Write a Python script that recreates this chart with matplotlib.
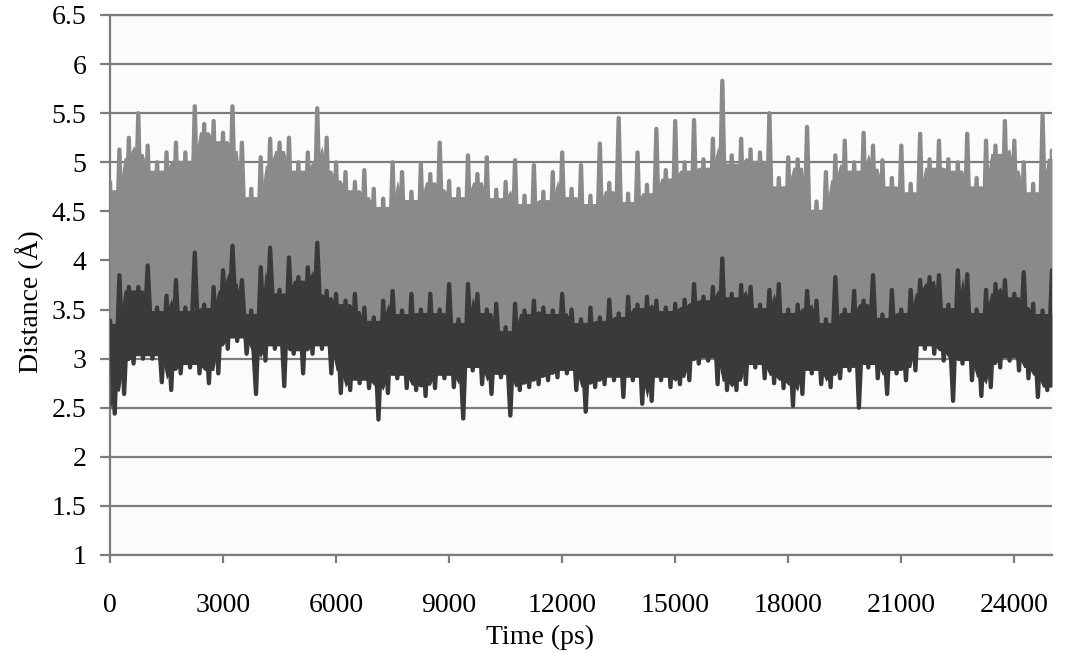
import numpy as np
import matplotlib
matplotlib.use("Agg")
import matplotlib.pyplot as plt
from matplotlib.ticker import FuncFormatter

# ---- data (envelope values of the two traces) ----
# upper peaks at t = 0, 250, ..., 25000 ps ; lower troughs at t = 125, 375, ..., 24875 ps
gray_high = [
    4.80, 5.13, 5.25, 5.50, 5.17, 5.00, 5.10, 5.20, 5.10, 5.57,
    5.39, 5.42, 5.30, 5.57, 5.20, 4.73, 5.05, 5.24, 5.20, 5.25,
    5.00, 5.10, 5.55, 5.25, 5.00, 4.90, 4.80, 4.92, 4.73, 4.63,
    5.00, 4.90, 4.70, 4.98, 4.88, 5.20, 4.81, 4.73, 5.07, 4.88,
    5.05, 4.72, 4.80, 5.02, 4.66, 4.97, 4.70, 4.90, 5.10, 4.73,
    4.97, 4.66, 5.19, 4.79, 5.45, 4.68, 5.10, 4.77, 5.34, 4.92,
    5.42, 5.00, 5.43, 5.03, 5.24, 5.83, 5.07, 5.24, 5.13, 5.10,
    5.50, 4.84, 5.05, 5.03, 5.36, 4.60, 4.90, 5.07, 5.22, 5.00,
    5.30, 5.17, 5.02, 4.84, 5.17, 4.78, 5.29, 5.03, 5.22, 5.03,
    5.00, 5.29, 4.84, 5.22, 5.17, 5.42, 5.22, 5.00, 4.78, 5.48,
    5.12,
]
gray_low = [
    3.35, 3.55, 3.60, 3.50, 3.62, 3.55, 3.60, 3.48, 3.62, 3.58,
    3.50, 3.60, 3.65, 3.70, 3.60, 3.45, 3.62, 3.55, 3.60, 3.58,
    3.62, 3.55, 3.65, 3.50, 3.45, 3.40, 3.48, 3.35, 3.22, 3.45,
    3.40, 3.48, 3.35, 3.50, 3.42, 3.55, 3.45, 3.30, 3.50, 3.42,
    3.40, 3.35, 3.45, 3.40, 3.38, 3.45, 3.35, 3.42, 3.48, 3.40,
    3.32, 3.45, 3.38, 3.50, 3.35, 3.45, 3.40, 3.42, 3.45, 3.40,
    3.48, 3.55, 3.50, 3.55, 3.45, 3.60, 3.50, 3.55, 3.48, 3.50,
    3.45, 3.40, 3.50, 3.45, 3.35, 3.52, 3.48, 3.40, 3.50, 3.45,
    3.50, 3.40, 3.48, 3.45, 3.50, 3.52, 3.45, 3.50, 3.55, 3.40,
    3.50, 3.45, 3.30, 3.50, 3.48, 3.52, 3.45, 3.35, 3.40, 3.50,
]
dark_high = [
    3.39, 3.85, 3.73, 3.73, 3.95, 3.52, 3.64, 3.80, 3.52, 4.08,
    3.55, 3.73, 3.90, 4.15, 3.80, 3.49, 3.93, 4.13, 3.70, 4.03,
    3.83, 3.93, 4.18, 3.69, 3.66, 3.59, 3.66, 3.52, 3.42, 3.59,
    3.69, 3.49, 3.66, 3.50, 3.66, 3.50, 3.76, 3.40, 3.76, 3.66,
    3.50, 3.56, 3.32, 3.56, 3.49, 3.59, 3.52, 3.49, 3.66, 3.50,
    3.40, 3.52, 3.42, 3.60, 3.46, 3.63, 3.55, 3.63, 3.59, 3.52,
    3.56, 3.60, 3.76, 3.63, 3.73, 4.02, 3.66, 3.75, 3.73, 3.55,
    3.70, 3.76, 3.50, 3.55, 3.69, 3.59, 3.40, 3.83, 3.50, 3.69,
    3.59, 3.85, 3.45, 3.70, 3.50, 3.70, 3.80, 3.83, 3.85, 3.55,
    3.90, 3.86, 3.50, 3.70, 3.76, 3.80, 3.66, 3.88, 3.56, 3.49,
    3.90,
]
dark_low = [
    2.44, 2.64, 2.95, 3.00, 3.00, 2.76, 2.68, 2.85, 2.91, 2.85,
    2.75, 2.85, 3.10, 3.18, 3.05, 2.64, 2.98, 3.10, 2.72, 3.05,
    2.85, 3.05, 3.10, 2.85, 2.65, 2.68, 2.75, 2.70, 2.38, 2.65,
    2.80, 2.70, 2.68, 2.62, 2.70, 2.80, 2.71, 2.39, 2.88, 2.74,
    2.64, 2.81, 2.42, 2.68, 2.71, 2.74, 2.78, 2.81, 2.85, 2.68,
    2.46, 2.71, 2.74, 2.78, 2.61, 2.78, 2.54, 2.57, 2.78, 2.71,
    2.74, 2.78, 2.95, 2.98, 2.74, 2.68, 2.68, 2.74, 2.91, 2.80,
    2.75, 2.70, 2.52, 2.64, 2.85, 2.74, 2.71, 2.80, 2.88, 2.50,
    2.91, 2.80, 2.64, 2.85, 2.78, 2.88, 3.10, 3.05, 2.98, 2.57,
    2.95, 2.78, 2.62, 2.71, 2.91, 2.98, 2.88, 2.80, 2.61, 2.68,
]
x_ticks = [0, 3000, 6000, 9000, 12000, 15000, 18000, 21000, 24000]
y_ticks = [1, 1.5, 2, 2.5, 3, 3.5, 4, 4.5, 5, 5.5, 6, 6.5]
x_label = "Time (ps)"
y_label = "Distance (Å)"

STEP = 125  # ps between consecutive peak / trough samples


def trace(high, low, inset):
    high = np.asarray(high, float)
    low = np.asarray(low, float)
    n = len(high) + len(low)
    x = np.arange(n) * STEP
    y = np.empty(n)
    y[0::2] = high
    y[1::2] = low
    # solid body of the trace, slightly inside the neighbouring peaks / troughs
    top = np.empty(n)
    bot = np.empty(n)
    for j in range(n):
        i = j // 2
        if j % 2 == 0:
            hs = high[max(i - 1, 0):i + 2]
            ls = low[max(i - 1, 0):i + 1]
        else:
            hs = high[i:i + 2]
            ls = low[max(i - 1, 0):i + 2]
        top[j] = hs.min() - inset
        bot[j] = ls.max() + inset
    return x, y, top, bot


plt.rcParams['font.family'] = ['Liberation Serif', 'DejaVu Serif']
fig = plt.figure(figsize=(10.69, 6.64), dpi=100)
fig.patch.set_facecolor('white')
ax = fig.add_axes([110 / 1069, 1 - 555 / 664, 942 / 1069, 540 / 664])
ax.set_facecolor('#fbfbfb')

GRAY = '#8a8a8a'
DARK = '#3a3a3a'
GRID = '#7c7c7c'

gx, gy, gtop, gbot = trace(gray_high, gray_low, 0.08)
dx, dy, dtop, dbot = trace(dark_high, dark_low, 0.03)
gbot = np.minimum(gbot, dtop)

ax.fill_between(gx, gbot, gtop, color=GRAY, lw=0, zorder=3)
ax.plot(gx, gy, color=GRAY, lw=3.1, solid_joinstyle='round', solid_capstyle='round', zorder=3)
ax.fill_between(dx, dbot, dtop, color=DARK, lw=0, zorder=4)
ax.plot(dx, dy, color=DARK, lw=3.1, solid_joinstyle='round', solid_capstyle='round', zorder=4)

ax.set_xlim(0, 25000)
ax.set_ylim(1, 6.5)
ax.set_xticks(x_ticks)
ax.set_yticks(y_ticks)
ax.yaxis.set_major_formatter(FuncFormatter(lambda v, p: f"{v:g}"))

ax.set_axisbelow(True)
ax.grid(axis='y', color=GRID, lw=1.6)
ax.grid(axis='x', visible=False)

ax.spines['right'].set_visible(False)
for s in ['left', 'bottom', 'top']:
    ax.spines[s].set_color(GRID)
    ax.spines[s].set_linewidth(1.6)
ax.spines['top'].set_zorder(0.5)

ax.tick_params(axis='y', length=7, width=1.6, color=GRID, direction='out', pad=10, labelsize=20)
ax.tick_params(axis='x', length=6, width=1.6, color=GRID, direction='out', pad=21, labelsize=20)

ax.set_xlabel(x_label, fontsize=20)
ax.set_ylabel(y_label, fontsize=20)
ax.xaxis.label.set_va('center')
ax.yaxis.label.set_va('center')
ax.xaxis.set_label_coords((540 - 110) / 942, (555 - 637) / 540)
ax.yaxis.set_label_coords((30 - 110) / 942, (555 - 302) / 540)

fig.savefig('out.png', dpi=100, facecolor=fig.get_facecolor())
